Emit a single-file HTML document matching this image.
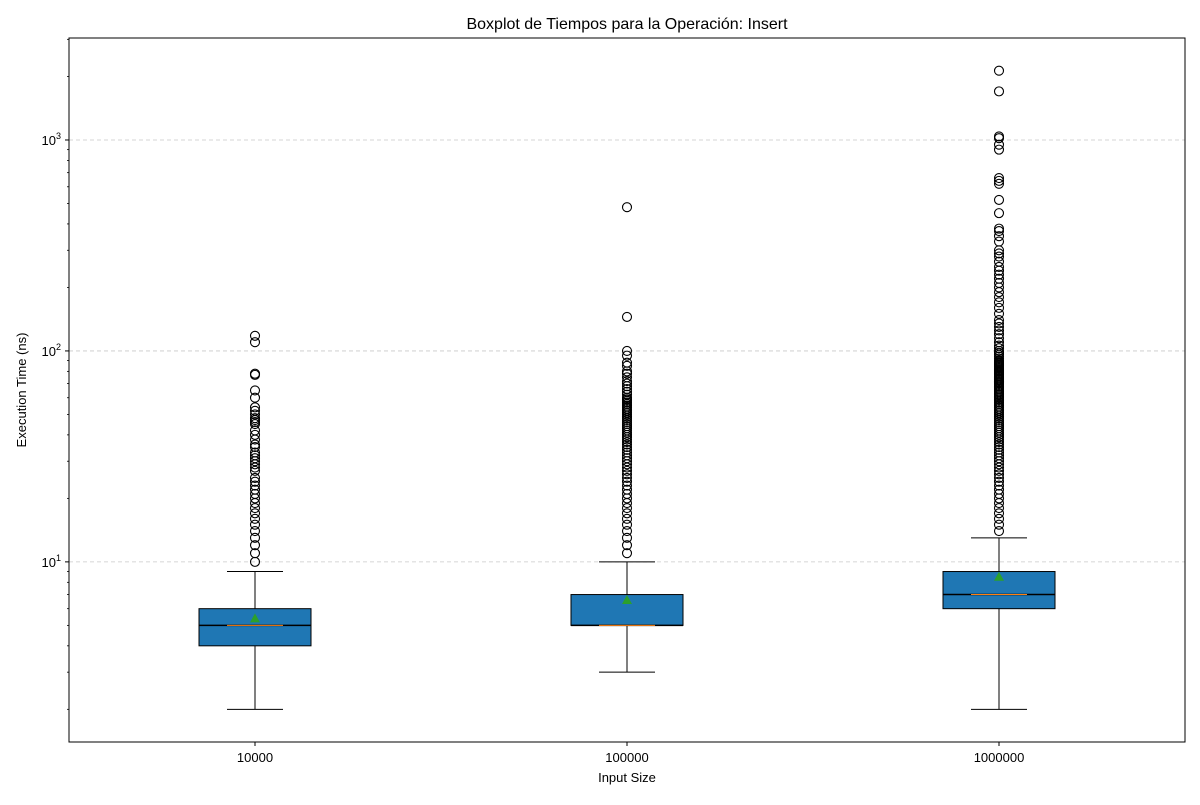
<!DOCTYPE html>
<html><head><meta charset="utf-8"><style>
body{margin:0;background:#fff;}
svg text{font-family:"Liberation Sans","DejaVu Sans",sans-serif;fill:#000;}
</style></head><body>
<svg id="c" width="1200" height="800" xmlns="http://www.w3.org/2000/svg">
<rect width="1200" height="800" fill="#fff"/>
<text x="627" y="29" font-size="16" text-anchor="middle">Boxplot de Tiempos para la Operación: Insert</text>
<text x="627" y="782" font-size="13" text-anchor="middle">Input Size</text>
<text transform="translate(26,390) rotate(-90)" font-size="13" text-anchor="middle">Execution Time (ns)</text>
<g id="grid"></g><g id="marks"></g><g id="axes"></g>
</svg>
<script>
const categories=["10000","100000","1000000"];
const q1=[4,5,6];
const q3=[6,7,9];
const medians=[5,5,7];
const means=[5.4,6.6,8.5];
const whiskLo=[2,3,2];
const whiskHi=[9,10,13];
const outliers0=[10,11,12,13,14,15,16,17,18,19,20,21,22,23,24,25,27,28,29,30,31,32,33,35,36,38,40,42,45,46,47,48,50,52,54,60,65,77,78,110,118];
const outliers1=[11,12,13,14,15,16,17,18,19,20,21,22,23,24,25,26,27,28,29,30,31,32,33,34,35,36,37,38,39,40,41,42,43,44,45,46,47,48,49,50,51,52,53,54,55,56,57,58,59,60,62,64,66,68,70,72,75,78,80,85,88,95,100,145,480];
const outliers2=[14,15,16,17,18,19,20,21,22,23,24,25,26,27,28,29,30,31,32,33,34,35,36,37,38,39,40,41,42,43,44,45,46,47,48,49,50,51,52,53,54,55,56,57,58,59,60,61,62,63,64,65,66,67,68,69,70,71,72,73,74,75,76,77,78,79,80,81,82,83,84,85,86,87,88,89,90,92,94,96,98,100,103,106,110,115,120,125,130,135,140,150,160,170,180,190,200,210,220,230,240,250,265,280,290,300,330,350,370,380,450,520,620,640,660,900,950,1020,1040,1700,2130];
const outliers=[outliers0,outliers1,outliers2];
const yDecades=[1,2,3];

const L=69,R=1185,T=38,B=742;
const yMin=Math.log10(1.4), yMax=Math.log10(3044);
function y(v){return B-(Math.log10(v)-yMin)/(yMax-yMin)*(B-T);}
function x(i){return L+(i+0.5)/categories.length*(R-L)*1.0 - (i+0.5-categories.length/2)*0*0 + (i-1)*0;}
function xc(i){return 255+i*372;}
const NS="http://www.w3.org/2000/svg";
function mk(p,tag,a){const e=document.createElementNS(NS,tag);for(const k in a)e.setAttribute(k,a[k]);p.appendChild(e);return e;}
const grid=document.getElementById('grid'),marks=document.getElementById('marks'),axes=document.getElementById('axes');

yDecades.forEach(d=>{
  const yy=y(Math.pow(10,d));
  const g=mk(grid,'line',{x1:L,x2:R,y1:yy,y2:yy,stroke:'#c8c8c8','stroke-dasharray':'4,3','stroke-width':0.8});
  
  
});

const bw=112;
categories.forEach((c,i)=>{
  const cx=xc(i);
  const g=mk(marks,'g',{});
  
  
  mk(g,'line',{x1:cx,x2:cx,y1:y(whiskLo[i]),y2:y(q1[i]),stroke:'#000'});
  mk(g,'line',{x1:cx,x2:cx,y1:y(q3[i]),y2:y(whiskHi[i]),stroke:'#000'});
  mk(g,'line',{x1:cx-28,x2:cx+28,y1:y(whiskLo[i]),y2:y(whiskLo[i]),stroke:'#000'});
  mk(g,'line',{x1:cx-28,x2:cx+28,y1:y(whiskHi[i]),y2:y(whiskHi[i]),stroke:'#000'});
  mk(g,'rect',{x:cx-bw/2,y:y(q3[i]),width:bw,height:y(q1[i])-y(q3[i]),fill:'#1f77b4',stroke:'#000','stroke-width':1});
  mk(g,'line',{x1:cx-bw/2,x2:cx+bw/2,y1:y(medians[i]),y2:y(medians[i]),stroke:'#000','stroke-width':1.5});
  mk(g,'line',{x1:cx-28,x2:cx+28,y1:y(medians[i]),y2:y(medians[i]),stroke:'#ff7f0e','stroke-width':1});
  const my=y(means[i]);
  mk(g,'polygon',{points:`${cx},${my-5} ${cx-5},${my+4} ${cx+5},${my+4}`,fill:'#2ca02c'});
  outliers[i].forEach(v=>{
    const o=mk(g,'circle',{cx:cx,cy:y(v),r:4.5,fill:'none',stroke:'#000','stroke-width':1.1});
    
    
  });
  mk(axes,'line',{x1:cx,x2:cx,y1:B,y2:B+4,stroke:'#000'});
  const t=mk(axes,'text',{x:cx,y:B+20,'font-size':13,'text-anchor':'middle'});
  t.textContent=c;
  
  
});

mk(axes,'rect',{x:L,y:T,width:R-L,height:B-T,fill:'none',stroke:'#000','stroke-width':1});
for(let d=0;d<=3;d++){
  for(let m=1;m<=9;m++){
    const v=m*Math.pow(10,d);
    if(v<1.4||v>3044)continue;
    const yy=y(v);
    if(m===1){
      mk(axes,'line',{x1:L-4,x2:L,y1:yy,y2:yy,stroke:'#000'});
      const t=mk(axes,'text',{x:L-8,y:yy+5,'font-size':13,'text-anchor':'end'});
      t.innerHTML='10<tspan dy="-6" font-size="9">'+d+'</tspan>';
      
      
    } else {
      mk(axes,'line',{x1:L-2,x2:L,y1:yy,y2:yy,stroke:'#000','stroke-width':0.8});
    }
  }
}
</script>
</body></html>
